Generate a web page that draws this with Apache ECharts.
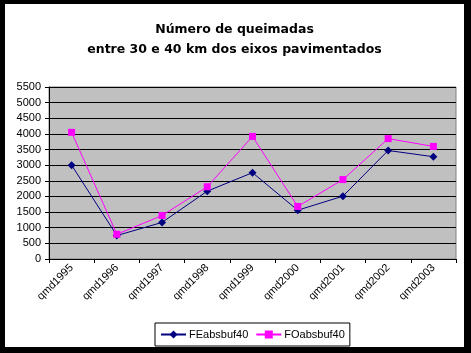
<!DOCTYPE html>
<html><head><meta charset="utf-8">
<script src="https://cdn.jsdelivr.net/npm/echarts@6/dist/echarts.min.js"></script>
<style>
html,body{margin:0;padding:0;background:#000;width:471px;height:353px;overflow:hidden}
#c{position:absolute;left:5px;top:4px;width:459px;height:343px;background:#fff}
</style></head><body>
<div id="c"></div>
<script>
const categories = ['qmd1995','qmd1996','qmd1997','qmd1998','qmd1999','qmd2000','qmd2001','qmd2002','qmd2003'];
const feValues = [3000, 750, 1170, 2170, 2760, 1560, 2010, 3470, 3270];
const foValues = [4050, 790, 1390, 2310, 3920, 1680, 2540, 3850, 3600];
const seriesNames = ['FEabsbuf40', 'FOabsbuf40'];
const yTicks = {min: 0, max: 5500, interval: 500};

const chart = echarts.init(document.getElementById('c'));
chart.setOption({
  animation: false,
  title: {
    text: 'Número de queimadas\nentre 30 e 40 km dos eixos pavimentados',
    left: 'center', top: 11,
    textStyle: {fontFamily: 'DejaVu Sans', fontWeight: 'bold', fontSize: 12.5, lineHeight: 20, color: '#000'}
  },
  legend: {
    left: 150, top: 319,
    padding: [6, 5, 6, 5],
    itemGap: 7, itemWidth: 25, itemHeight: 10,
    borderColor: '#000', borderWidth: 1,
    textStyle: {fontFamily: 'Liberation Sans', fontSize: 11, color: '#000', padding: [0,0,0,-2]},
    data: seriesNames
  },
  grid: {
    left: 44, top: 83, width: 407, height: 172,
    show: true, backgroundColor: '#c0c0c0', borderColor: '#808080', borderWidth: 1
  },
  xAxis: {
    type: 'category', data: categories, boundaryGap: true,
    axisLine: {lineStyle: {color: '#000', width: 1}},
    axisTick: {show: true, length: 4, lineStyle: {color: '#000'}},
    axisLabel: {rotate: 45, margin: 7, fontFamily: 'Liberation Sans', fontSize: 11, color: '#000', interval: 0}
  },
  yAxis: {
    type: 'value', min: yTicks.min, max: yTicks.max, interval: yTicks.interval,
    axisLine: {show: true, lineStyle: {color: '#000', width: 1}},
    axisTick: {show: true, length: 4, lineStyle: {color: '#000'}},
    axisLabel: {margin: 8, fontFamily: 'Liberation Sans', fontSize: 11, color: '#000', formatter: v => String(v)},
    splitLine: {show: true, lineStyle: {color: '#000', width: 1}}
  },
  series: [
    {name: seriesNames[0], type: 'line', data: feValues, symbol: 'diamond', symbolSize: 8,
     color: '#000080', lineStyle: {width: 1, color: '#000080'}, itemStyle: {color: '#000080'}},
    {name: seriesNames[1], type: 'line', data: foValues, symbol: 'rect', symbolSize: 7,
     color: '#ff00ff', lineStyle: {width: 1, color: '#ff00ff'}, itemStyle: {color: '#ff00ff'}}
  ]
});
</script></body></html>
